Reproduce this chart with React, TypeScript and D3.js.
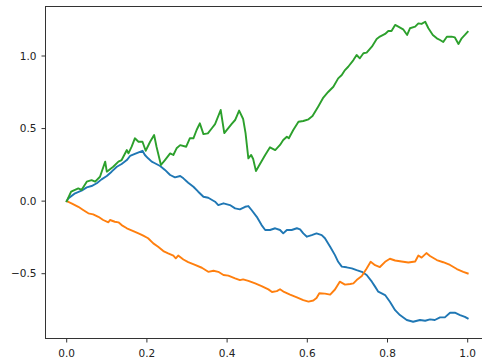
import React from "react";
import * as d3 from "d3";

// Three simulated walks sampled along t in [0, 1]: [t, value]
const walkBlue: [number, number][] = [
  [0, 0], [0.004, 0.019], [0.021, 0.054], [0.037, 0.072], [0.05, 0.095], [0.062, 0.104],
  [0.075, 0.123], [0.087, 0.15], [0.1, 0.173], [0.112, 0.203], [0.125, 0.237], [0.137, 0.256],
  [0.15, 0.283], [0.158, 0.311], [0.17, 0.325], [0.189, 0.347], [0.195, 0.318], [0.203, 0.295],
  [0.212, 0.272], [0.22, 0.261], [0.233, 0.242], [0.245, 0.215], [0.258, 0.18], [0.27, 0.164],
  [0.283, 0.173], [0.291, 0.157], [0.303, 0.127], [0.316, 0.099], [0.328, 0.065], [0.341, 0.03],
  [0.353, 0.023], [0.37, -0.004], [0.378, -0.027], [0.391, -0.015], [0.407, -0.027], [0.42, -0.05],
  [0.432, -0.057], [0.445, -0.039], [0.453, -0.034], [0.461, -0.061], [0.474, -0.108], [0.486, -0.165],
  [0.495, -0.199], [0.507, -0.199], [0.52, -0.187], [0.532, -0.199], [0.54, -0.222], [0.549, -0.199],
  [0.561, -0.199], [0.574, -0.187], [0.582, -0.194], [0.59, -0.222], [0.599, -0.245], [0.611, -0.234],
  [0.623, -0.222], [0.636, -0.234], [0.644, -0.256], [0.657, -0.314], [0.669, -0.372], [0.677, -0.418],
  [0.686, -0.451], [0.698, -0.456], [0.711, -0.463], [0.723, -0.475], [0.736, -0.487], [0.748, -0.509],
  [0.761, -0.555], [0.769, -0.589], [0.777, -0.624], [0.794, -0.647], [0.806, -0.693], [0.819, -0.751],
  [0.831, -0.785], [0.848, -0.819], [0.864, -0.831], [0.881, -0.819], [0.894, -0.824], [0.906, -0.815],
  [0.918, -0.819], [0.931, -0.801], [0.943, -0.801], [0.956, -0.769], [0.968, -0.769], [0.981, -0.785],
  [0.993, -0.797], [1.0, -0.808],
];

const walkOrange: [number, number][] = [
  [0, 0], [0.012, -0.015], [0.029, -0.039], [0.041, -0.061], [0.054, -0.084], [0.066, -0.091],
  [0.079, -0.108], [0.091, -0.13], [0.104, -0.146], [0.108, -0.13], [0.12, -0.142], [0.129, -0.146],
  [0.137, -0.165], [0.15, -0.187], [0.166, -0.206], [0.179, -0.222], [0.191, -0.238], [0.203, -0.256],
  [0.216, -0.291], [0.228, -0.314], [0.241, -0.344], [0.253, -0.36], [0.266, -0.376], [0.272, -0.394],
  [0.278, -0.375], [0.291, -0.402], [0.303, -0.42], [0.32, -0.44], [0.337, -0.459], [0.353, -0.487],
  [0.366, -0.48], [0.378, -0.487], [0.391, -0.509], [0.403, -0.513], [0.42, -0.532], [0.432, -0.544],
  [0.44, -0.539], [0.453, -0.549], [0.47, -0.567], [0.486, -0.585], [0.503, -0.608], [0.512, -0.626],
  [0.524, -0.62], [0.532, -0.607], [0.542, -0.626], [0.557, -0.644], [0.574, -0.663], [0.59, -0.682],
  [0.603, -0.692], [0.615, -0.685], [0.623, -0.668], [0.63, -0.635], [0.644, -0.637], [0.657, -0.644],
  [0.669, -0.609], [0.681, -0.555], [0.694, -0.575], [0.707, -0.571], [0.715, -0.567], [0.723, -0.544],
  [0.736, -0.516], [0.748, -0.464], [0.758, -0.418], [0.769, -0.441], [0.781, -0.454], [0.794, -0.418],
  [0.806, -0.397], [0.819, -0.409], [0.835, -0.416], [0.852, -0.423], [0.869, -0.416], [0.877, -0.375],
  [0.885, -0.389], [0.897, -0.358], [0.906, -0.378], [0.923, -0.406], [0.939, -0.421], [0.956, -0.44],
  [0.973, -0.468], [0.989, -0.487], [1.0, -0.498],
];

const walkGreen: [number, number][] = [
  [0, 0], [0.011, 0.065], [0.029, 0.088], [0.037, 0.077], [0.05, 0.134], [0.062, 0.145],
  [0.071, 0.134], [0.083, 0.168], [0.096, 0.272], [0.1, 0.203], [0.116, 0.237], [0.129, 0.272],
  [0.137, 0.283], [0.15, 0.352], [0.154, 0.329], [0.162, 0.375], [0.17, 0.433], [0.179, 0.409],
  [0.189, 0.409], [0.197, 0.347], [0.208, 0.409], [0.218, 0.456], [0.224, 0.375], [0.235, 0.249],
  [0.245, 0.283], [0.258, 0.329], [0.266, 0.318], [0.274, 0.364], [0.283, 0.386], [0.298, 0.375],
  [0.307, 0.433], [0.316, 0.433], [0.324, 0.49], [0.332, 0.536], [0.341, 0.462], [0.352, 0.467],
  [0.362, 0.502], [0.37, 0.531], [0.384, 0.628], [0.393, 0.469], [0.411, 0.531], [0.42, 0.559],
  [0.43, 0.624], [0.44, 0.566], [0.446, 0.469], [0.453, 0.295], [0.46, 0.318], [0.465, 0.29],
  [0.472, 0.207], [0.478, 0.237], [0.495, 0.318], [0.507, 0.371], [0.52, 0.352], [0.532, 0.387],
  [0.54, 0.421], [0.549, 0.444], [0.554, 0.433], [0.565, 0.49], [0.578, 0.547], [0.59, 0.552],
  [0.603, 0.564], [0.613, 0.586], [0.627, 0.651], [0.64, 0.714], [0.652, 0.752], [0.665, 0.788],
  [0.677, 0.846], [0.686, 0.869], [0.694, 0.903], [0.702, 0.926], [0.715, 0.972], [0.723, 1.007],
  [0.731, 0.984], [0.74, 1.019], [0.748, 1.023], [0.761, 1.064], [0.773, 1.117], [0.781, 1.134],
  [0.794, 1.152], [0.802, 1.172], [0.81, 1.172], [0.819, 1.214], [0.827, 1.202], [0.839, 1.184],
  [0.849, 1.145], [0.856, 1.191], [0.869, 1.202], [0.877, 1.225], [0.885, 1.221], [0.894, 1.236],
  [0.902, 1.191], [0.913, 1.145], [0.923, 1.122], [0.931, 1.11], [0.939, 1.096], [0.948, 1.133],
  [0.96, 1.133], [0.968, 1.128], [0.977, 1.083], [0.985, 1.122], [0.993, 1.145], [1.0, 1.167],
];

const xTicks = [0.0, 0.2, 0.4, 0.6, 0.8, 1.0];
const yTicks = [-0.5, 0.0, 0.5, 1.0];

const seriesList = [
  { data: walkBlue, color: "#1f77b4" },
  { data: walkOrange, color: "#ff7f0e" },
  { data: walkGreen, color: "#2ca02c" },
];

const W = 482;
const H = 357;
const frame = { left: 45.5, top: 6.5, right: 486, bottom: 338.5 };

const fmt = (v: number) => v.toFixed(1).replace("-", "\u2212");

export default function App() {
  const x = d3.scaleLinear().domain([0, 1]).range([66.7, 467.7]);
  const y = d3.scaleLinear().domain([-0.5, 1.0]).range([273.7, 56]);
  const line = d3
    .line<[number, number]>()
    .x((d) => x(d[0]))
    .y((d) => y(d[1]));

  const font = "'DejaVu Sans', sans-serif";
  const axisColor = "#333";

  return (
    <svg
      width={W}
      height={H}
      viewBox={`0 0 ${W} ${H}`}
      style={{ position: "absolute", left: 0, top: 0, display: "block", background: "#fff" }}
    >
      <rect x={0} y={0} width={W} height={H} fill="#fff" />
      {seriesList.map((s, i) => (
        <path
          key={i}
          d={line(s.data) || ""}
          fill="none"
          stroke={s.color}
          strokeWidth={1.9}
          strokeLinejoin="round"
          strokeLinecap="square"
        />
      ))}
      {/* axes frame */}
      <rect
        x={frame.left}
        y={frame.top}
        width={frame.right - frame.left}
        height={frame.bottom - frame.top}
        fill="none"
        stroke={axisColor}
        strokeWidth={1}
      />
      {xTicks.map((t) => (
        <g key={"x" + t}>
          <line
            x1={x(t)}
            x2={x(t)}
            y1={frame.bottom}
            y2={frame.bottom + 4}
            stroke={axisColor}
            strokeWidth={1}
          />
          <text
            x={x(t)}
            y={356.5}
            textAnchor="middle"
            fontFamily={font}
            fontSize={10.5}
            fill="#222"
          >
            {fmt(t)}
          </text>
        </g>
      ))}
      {yTicks.map((t) => (
        <g key={"y" + t}>
          <line
            x1={frame.left - 4}
            x2={frame.left}
            y1={y(t)}
            y2={y(t)}
            stroke={axisColor}
            strokeWidth={1}
          />
          <text
            x={36.5}
            y={y(t)}
            dy="0.36em"
            textAnchor="end"
            fontFamily={font}
            fontSize={10.5}
            fill="#222"
          >
            {fmt(t)}
          </text>
        </g>
      ))}
    </svg>
  );
}
